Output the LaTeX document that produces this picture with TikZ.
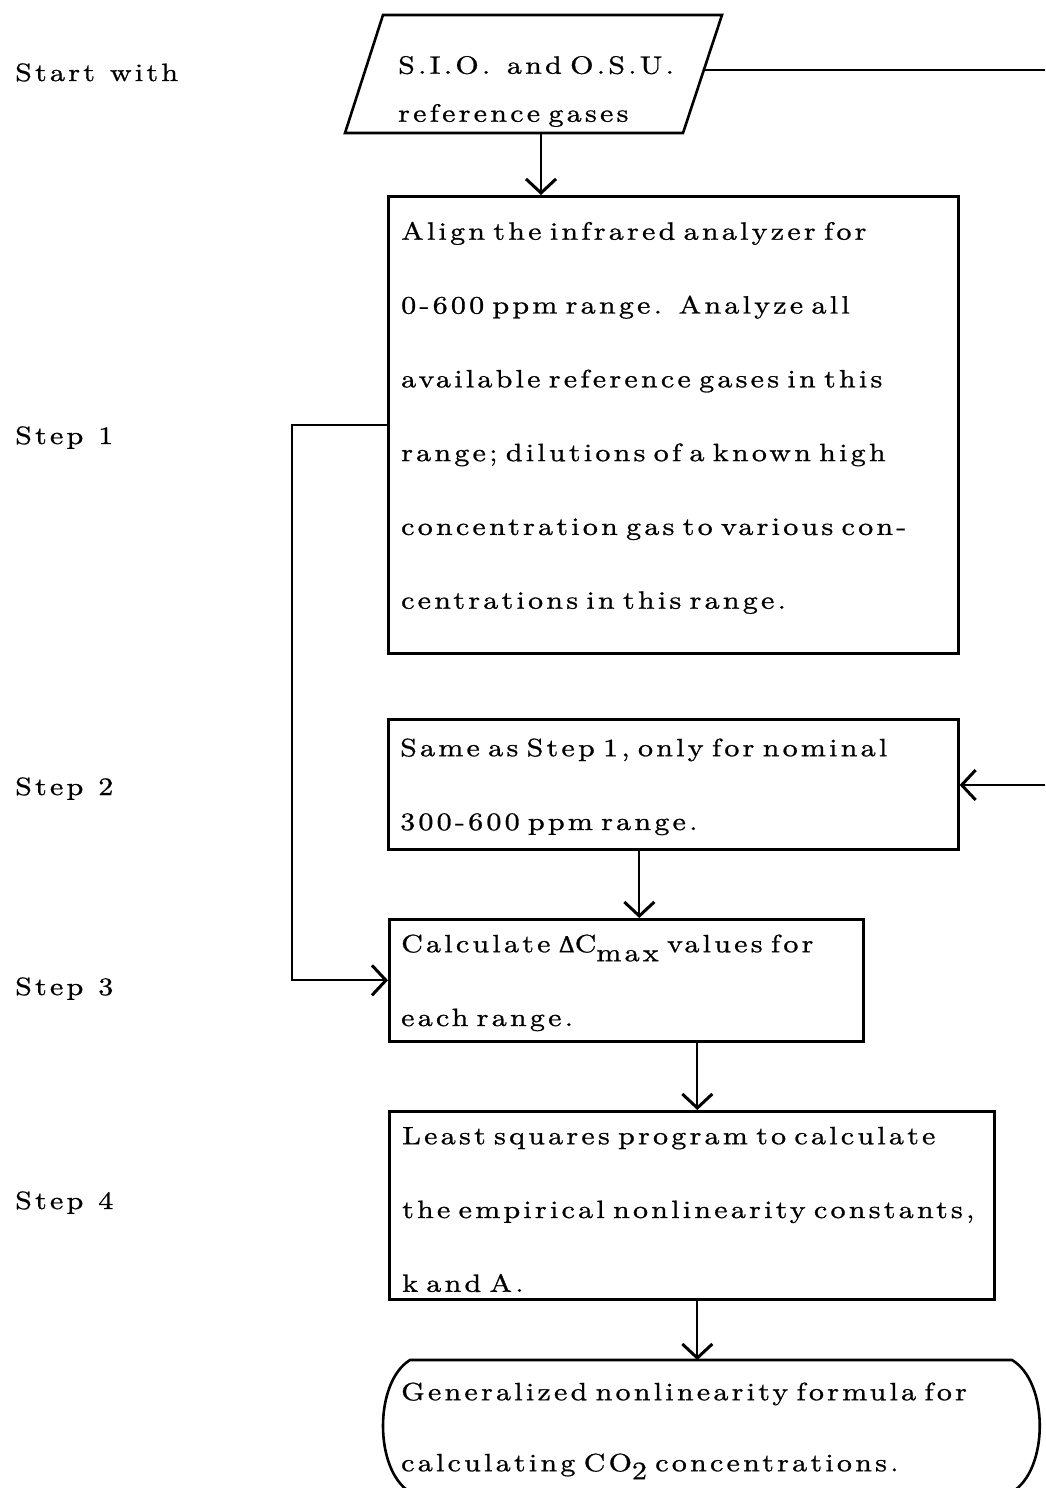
\documentclass[tikz,border=0pt]{standalone}
\usepackage{fontspec}
\setmainfont{lmroman10-regular.otf}[LetterSpace=13, FakeStretch=1.2, FakeBold=1]
\newfontfamily\gkfont{DejaVu Serif}[FakeBold=1.5]
\usetikzlibrary{arrows.meta,calc}
\newcommand\sps{\spaceskip=15pt plus 2pt minus 1pt\xspaceskip=15pt plus 2pt minus 1pt}
\newcommand\tfont{\fontsize{25}{73.8}\selectfont\sps}
\newcommand\pfont{\fontsize{25}{48}\selectfont\sps}
\newcommand\gfont{\fontsize{25}{71}\selectfont\sps}
\newcommand\fl{\rule{0pt}{20pt}}
\newcommand\dlt{{\gkfont\fontsize{22}{22}\selectfont Δ}}
\begin{document}
\begin{tikzpicture}[x=1pt,y=-1pt,
 box/.style={draw, line width=2.6pt, rectangle, anchor=north west, inner sep=0pt},
 txt/.style={anchor=north west, inner sep=0pt, align=left, text width=700pt, font=\tfont},
 lbl/.style={anchor=base west, inner sep=0pt, font=\tfont},
 conn/.style={line width=2.2pt},
 arr/.style={conn, -{Straight Barb[length=14pt,width=30pt,line width=3pt]}},
 outline/.style={line width=2.6pt, line join=miter}]
\useasboundingbox (0,0) rectangle (1045,1488);

% labels
\node[lbl] (l0) at (15,81) {Start with};
\node[lbl] (l1) at (15,444) {Step 1};
\node[lbl] (l2) at (15,795) {Step 2};
\node[lbl] (l3) at (15,995) {Step 3};
\node[lbl] (l4) at (15,1209) {Step 4};

% source parallelogram
\coordinate (p1) at (383,15);
\coordinate (p2) at (722,15);
\coordinate (p3) at (683,133);
\coordinate (p4) at (345,133);
\draw[outline] (p1) -- (p2) -- (p3) -- (p4) -- cycle;
\node[txt, font=\pfont] (src) at (398,53.5) {\fl S.I.O.\ \ and O.S.U.\\reference gases};
\coordinate (pR) at (704,70);
\coordinate (outR) at (1045,70);
\coordinate (pB) at (541,133);

% boxes
\node[box, minimum width=570pt, minimum height=457pt] (align) at (387,195) {};
\node[txt] (alignT) at (401,219.5)
 {\fl Align the infrared analyzer for\\0-600 ppm range.\ \ Analyze all\\available reference gases in this\\range; dilutions of a known high\\concentration gas to various con-\\centrations in this range.};
\node[box, minimum width=570pt, minimum height=130pt] (s2) at (387,718) {};
\node[txt] (s2T) at (400,736)
 {\fl Same as Step 1, only for nominal\\300-600 ppm range.};
\node[box, minimum width=474pt, minimum height=122pt] (calc) at (388,918) {};
\node[txt] (calcT) at (401,932)
 {\fl Calculate \dlt C\raisebox{-9pt}{max} values for\\each range.};
\node[box, minimum width=605pt, minimum height=188pt] (ls) at (388,1110) {};
\node[txt] (lsT) at (402,1124)
 {\fl Least squares program to calculate\\the empirical nonlinearity constants,\\k and A.};
\node[box, draw=none, minimum width=640pt, minimum height=132pt] (gen) at (390,1360) {};
\node[txt, font=\gfont] (genT) at (401,1380)
 {\fl Generalized nonlinearity formula for\\calculating CO\raisebox{-8pt}{2} concentrations.};
\draw[outline] (410,1360) -- (1012,1360)
  .. controls (1049,1382) and (1049,1470) .. (1012,1492)
  -- (410,1492)
  .. controls (374,1470) and (374,1382) .. (410,1360) -- cycle;

% connectors
\draw[conn] (pR) -- (outR);
\draw[arr] (pB) -- (pB |- align.north);
\draw[arr] (align.west) -- ++(-95,0) |- (calc.west);
\coordinate (inR) at (1045,785);
\draw[arr] (inR) -- (inR -| s2.east);
\draw[arr] ([xshift=13pt]calc.north |- s2.south) -- ([xshift=13pt]calc.north);
\draw[arr] ([xshift=5.5pt]ls.north |- calc.south) -- ([xshift=5.5pt]ls.north);
\draw[arr] ([xshift=5.5pt]ls.south) -- ([xshift=5.5pt]ls.south |- gen.north);
\end{tikzpicture}
\end{document}
